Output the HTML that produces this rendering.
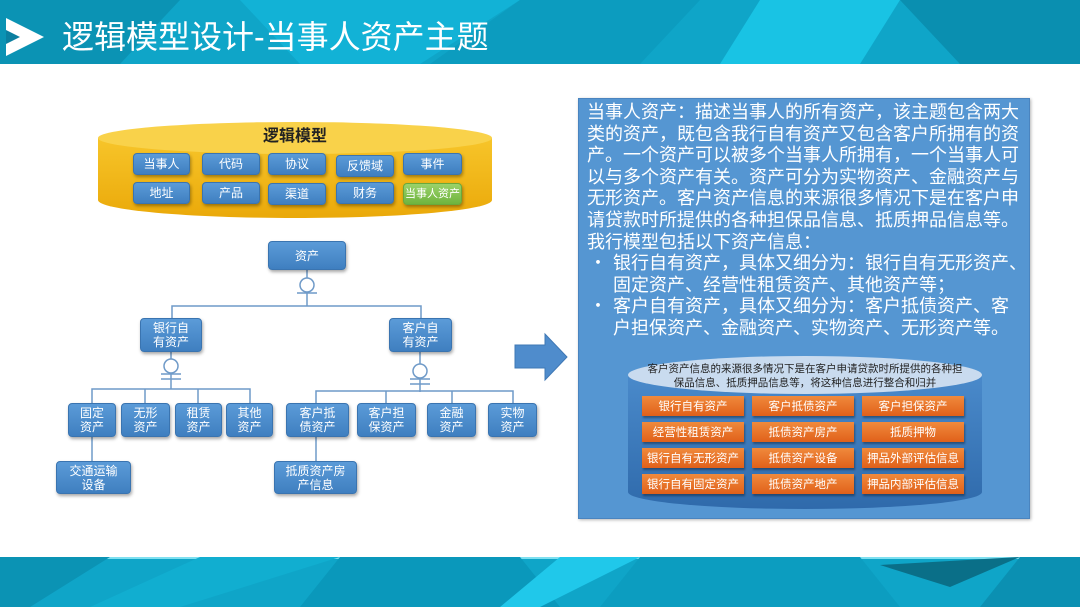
<!DOCTYPE html>
<html><head><meta charset="utf-8"><style>
*{margin:0;padding:0;box-sizing:border-box}
body{width:1080px;height:607px;overflow:hidden;background:#fff;position:relative;font-family:"Liberation Sans","Noto Sans CJK SC",sans-serif}
.abs{position:absolute}
.bb{position:absolute;background:linear-gradient(#5b9bd8,#3f7fc0);border:1px solid #3a74b0;border-radius:4px;color:#fff;font-size:12px;line-height:14px;display:flex;align-items:center;justify-content:center;text-align:center;box-shadow:1px 2px 3px rgba(0,0,0,.35);white-space:nowrap}
.ob{position:absolute;width:102px;height:20px;background:linear-gradient(#f08a3c,#e0601a);color:#fff;font-size:11.5px;display:flex;align-items:center;justify-content:center;box-shadow:1px 2px 2px rgba(0,0,0,.35)}
.txt{position:absolute;left:587px;top:101px;width:440px;color:#fff;font-size:18px;line-height:21.6px;white-space:nowrap;font-family:"Noto Sans CJK SC",sans-serif}
.li{position:relative;padding-left:26px}
.li span{position:absolute;left:2px}
</style></head><body>
<svg class="abs" style="left:0;top:0" width="1080" height="64">
<rect width="1080" height="64" fill="#0fa5c8"/>
<polygon points="0,0 180,0 120,64 0,64" fill="#0b93b4"/>
<polygon points="240,0 520,0 420,64 300,64" fill="#12b2d6"/>
<polygon points="520,0 700,0 640,64 430,64" fill="#0c9cbf"/>
<polygon points="760,0 900,0 860,64 720,64" fill="#19c3e4"/>
<polygon points="900,0 1080,0 1080,64 960,64" fill="#0a8fb0"/>
<polygon points="6,18 44,37 6,56" fill="#fff"/>
<polygon points="6,30 20,37 6,44" fill="#0b7fa0"/>
<text x="62" y="48" fill="#fff" font-size="32" font-family="Liberation Sans,Noto Sans CJK SC,sans-serif">逻辑模型设计-当事人资产主题</text>
</svg>
<svg class="abs" style="left:0;top:557" width="1080" height="50">
<rect width="1080" height="50" fill="#0fa5c8"/>
<rect width="1080" height="2" fill="#7fe0f0"/>
<polygon points="0,0 110,0 30,50 0,50" fill="#0b93b4"/>
<polygon points="200,0 340,0 180,50 90,50" fill="#11aed0"/>
<polygon points="340,0 520,0 560,50 300,50" fill="#0a98bb"/>
<polygon points="560,0 640,0 540,50 500,50" fill="#20c8ea"/>
<polygon points="640,0 860,0 900,50 600,50" fill="#0c9dc0"/>
<polygon points="880,8 1020,0 950,30" fill="#0a6f88"/>
<polygon points="1020,0 1080,0 1080,50 980,50" fill="#0b90b2"/>
</svg>
<svg class="abs" style="left:95px;top:118px" width="400" height="104">
<defs><linearGradient id="yg" x1="0" y1="0" x2="0" y2="1"><stop offset="0" stop-color="#f7c52a"/><stop offset="1" stop-color="#eaa90a"/></linearGradient></defs>
<path d="M3,20 L3,82 A197,18 0 0 0 397,82 L397,20 Z" fill="url(#yg)"/>
<ellipse cx="200" cy="20" rx="197" ry="16" fill="#f9d24a"/>
<text x="200" y="23" text-anchor="middle" font-size="16" font-weight="bold" fill="#222" font-family="Liberation Sans,Noto Sans CJK SC,sans-serif">逻辑模型</text>
</svg>
<div class="bb" style="left:133px;top:153px;width:57px;height:22px">当事人</div>
<div class="bb" style="left:202px;top:153px;width:58px;height:22px">代码</div>
<div class="bb" style="left:268px;top:153px;width:58px;height:22px">协议</div>
<div class="bb" style="left:336px;top:155px;width:58px;height:22px">反馈域</div>
<div class="bb" style="left:403px;top:153px;width:59px;height:22px">事件</div>
<div class="bb" style="left:133px;top:182px;width:57px;height:22px">地址</div>
<div class="bb" style="left:202px;top:182px;width:58px;height:22px">产品</div>
<div class="bb" style="left:268px;top:183px;width:58px;height:22px">渠道</div>
<div class="bb" style="left:336px;top:182px;width:58px;height:22px">财务</div>
<div class="bb" style="left:403px;top:183px;width:59px;height:22px;font-size:11px;background:linear-gradient(#9ad26a,#6fb43e);border-color:#6aa83c">当事人资产</div>
<svg class="abs" style="left:0;top:0" width="580" height="557">
<g stroke="#6f9ac8" stroke-width="1.5" fill="none">
<line x1="307" y1="270" x2="307" y2="278"/><circle cx="307" cy="285" r="7" fill="#fff"/>
<line x1="297" y1="293" x2="317" y2="293"/><line x1="307" y1="292" x2="307" y2="306"/>
<polyline points="172,319 172,306 421,306 421,318"/>
<line x1="171" y1="352" x2="171" y2="359"/><circle cx="171" cy="366" r="7" fill="#fff"/>
<line x1="161" y1="374" x2="181" y2="374"/><line x1="161" y1="379" x2="181" y2="379"/><line x1="171" y1="373" x2="171" y2="389"/>
<polyline points="92,403 92,389 250,389 250,403"/><line x1="145" y1="389" x2="145" y2="403"/><line x1="198" y1="389" x2="198" y2="403"/>
<line x1="420" y1="352" x2="420" y2="364"/><circle cx="420" cy="371" r="7" fill="#fff"/>
<line x1="410" y1="379" x2="430" y2="379"/><line x1="410" y1="384" x2="430" y2="384"/><line x1="420" y1="378" x2="420" y2="392"/>
<polyline points="316,403 316,391 513,391 513,403"/><line x1="386" y1="391" x2="386" y2="403"/><line x1="452" y1="391" x2="452" y2="403"/>
<line x1="92" y1="437" x2="92" y2="461"/><line x1="316" y1="437" x2="316" y2="461"/>
</g>
<polygon points="515,345 545,345 545,334 567,357 545,380 545,368 515,368" fill="#4f8ccc" stroke="#3f78b5"/>
</svg>
<div class="bb" style="left:268px;top:241px;width:78px;height:29px">资产</div>
<div class="bb" style="left:140px;top:318px;width:62px;height:34px">银行自<br>有资产</div>
<div class="bb" style="left:389px;top:318px;width:63px;height:34px">客户自<br>有资产</div>
<div class="bb" style="left:68px;top:403px;width:48px;height:34px">固定<br>资产</div>
<div class="bb" style="left:121px;top:403px;width:49px;height:34px">无形<br>资产</div>
<div class="bb" style="left:175px;top:403px;width:47px;height:34px">租赁<br>资产</div>
<div class="bb" style="left:226px;top:403px;width:47px;height:34px">其他<br>资产</div>
<div class="bb" style="left:286px;top:403px;width:63px;height:34px">客户抵<br>债资产</div>
<div class="bb" style="left:357px;top:403px;width:59px;height:34px">客户担<br>保资产</div>
<div class="bb" style="left:427px;top:403px;width:49px;height:34px">金融<br>资产</div>
<div class="bb" style="left:488px;top:403px;width:49px;height:34px">实物<br>资产</div>
<div class="bb" style="left:56px;top:461px;width:75px;height:33px">交通运输<br>设备</div>
<div class="bb" style="left:274px;top:461px;width:83px;height:33px">抵质资产房<br>产信息</div>
<div class="abs" style="left:578px;top:98px;width:452px;height:421px;background:#5596d2;border:1px solid #4a84bf;box-shadow:1px 1px 3px rgba(0,0,0,.3)"></div>
<div class="txt">当事人资产：描述当事人的所有资产，该主题包含两大<br>类的资产，既包含我行自有资产又包含客户所拥有的资<br>产。一个资产可以被多个当事人所拥有，一个当事人可<br>以与多个资产有关。资产可分为实物资产、金融资产与<br>无形资产。客户资产信息的来源很多情况下是在客户申<br>请贷款时所提供的各种担保品信息、抵质押品信息等。<br>我行模型包括以下资产信息：
<div class="li"><span>•</span>银行自有资产，具体又细分为：银行自有无形资产、<br>固定资产、经营性租赁资产、其他资产等；</div>
<div class="li"><span>•</span>客户自有资产，具体又细分为：客户抵债资产、客<br>户担保资产、金融资产、实物资产、无形资产等。</div>
</div>
<svg class="abs" style="left:626px;top:354px" width="358" height="160">
<defs><linearGradient id="bg2" x1="0" y1="0" x2="0" y2="1"><stop offset="0" stop-color="#4a8acb"/><stop offset="1" stop-color="#2f6aab"/></linearGradient></defs>
<path d="M2,21 L2,138 A177,17 0 0 0 356,138 L356,21 Z" fill="url(#bg2)"/>
<ellipse cx="179" cy="21" rx="177" ry="19" fill="#c9dbef"/>
<text x="179" y="18" text-anchor="middle" font-size="10.5" fill="#222" font-family="Liberation Sans,Noto Sans CJK SC,sans-serif">客户资产信息的来源很多情况下是在客户申请贷款时所提供的各种担</text>
<text x="179" y="32" text-anchor="middle" font-size="10.5" fill="#222" font-family="Liberation Sans,Noto Sans CJK SC,sans-serif">保品信息、抵质押品信息等，将这种信息进行整合和归并</text>
</svg>
<div class="ob" style="left:642px;top:396px">银行自有资产</div>
<div class="ob" style="left:752px;top:396px">客户抵债资产</div>
<div class="ob" style="left:862px;top:396px">客户担保资产</div>
<div class="ob" style="left:642px;top:422px">经营性租赁资产</div>
<div class="ob" style="left:752px;top:422px">抵债资产房产</div>
<div class="ob" style="left:862px;top:422px">抵质押物</div>
<div class="ob" style="left:642px;top:448px">银行自有无形资产</div>
<div class="ob" style="left:752px;top:448px">抵债资产设备</div>
<div class="ob" style="left:862px;top:448px">押品外部评估信息</div>
<div class="ob" style="left:642px;top:474px">银行自有固定资产</div>
<div class="ob" style="left:752px;top:474px">抵债资产地产</div>
<div class="ob" style="left:862px;top:474px">押品内部评估信息</div>
</body></html>
